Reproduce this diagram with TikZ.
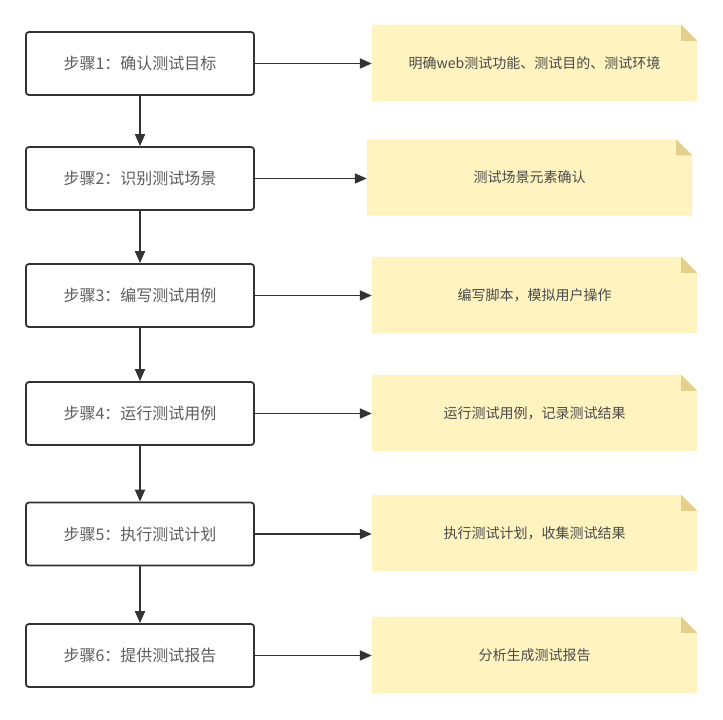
\documentclass[tikz,border=0pt]{standalone}
\usepackage{fontspec}
\setmainfont{Noto Sans CJK SC}
\usetikzlibrary{arrows.meta}
\definecolor{notefill}{HTML}{FFF3C0}
\definecolor{notefold}{HTML}{E3D08C}
\definecolor{stroke}{HTML}{333333}
\definecolor{steptext}{HTML}{5E5E5E}
\definecolor{notetext}{HTML}{4A4A4A}
\tikzset{
  stepbox/.style={draw=stroke, line width=1.8pt, rounded corners=3pt, fill=white,
    minimum width=228pt, minimum height=63pt, inner sep=0pt,
    font=\fontsize{16pt}{19pt}\selectfont, text=steptext},
  notebox/.style={minimum width=325pt, minimum height=76pt, inner sep=0pt,
    font=\fontsize{14pt}{17pt}\selectfont, text=notetext},
  flow/.style={draw=stroke, line width=1.8pt, -{Triangle[length=12pt,width=10pt]}}
}
\newcommand{\notebg}[1]{%
  \fill[notefill] (#1.south west) -- (#1.north west) -- ([xshift=-16pt]#1.north east)
    -- ([yshift=-16pt]#1.north east) -- (#1.south east) -- cycle;
  \fill[notefold] ([xshift=-16pt]#1.north east) -- ([yshift=-16pt]#1.north east)
    -- ([xshift=-16pt,yshift=-16pt]#1.north east) -- cycle;
}
\begin{document}
\begin{tikzpicture}[x=1pt,y=-1pt]
\useasboundingbox (0,0) rectangle (723,720);
\fill[white] (0,0) rectangle (723,720);
% notes
\node[notebox] (n1) at (534.5,63) {};
\node[notebox] (n2) at (529.5,177.5) {};
\node[notebox] (n3) at (534.5,295) {};
\node[notebox] (n4) at (534.5,413) {};
\node[notebox] (n5) at (534.5,533) {};
\node[notebox] (n6) at (534.5,655) {};
\notebg{n1}\notebg{n2}\notebg{n3}\notebg{n4}\notebg{n5}\notebg{n6}
\node[notebox] at (n1) {明确web测试功能、测试目的、测试环境};
\node[notebox] at (n2) {测试场景元素确认};
\node[notebox] at (n3) {编写脚本，模拟用户操作};
\node[notebox] at (n4) {运行测试用例，记录测试结果};
\node[notebox] at (n5) {执行测试计划，收集测试结果};
\node[notebox] at (n6) {分析生成测试报告};
% steps
\node[stepbox] (s1) at (140,63.5) {步骤1：确认测试目标};
\node[stepbox] (s2) at (140,178.5) {步骤2：识别测试场景};
\node[stepbox] (s3) at (140,295.5) {步骤3：编写测试用例};
\node[stepbox] (s4) at (140,413.5) {步骤4：运行测试用例};
\node[stepbox] (s5) at (140,534) {步骤5：执行测试计划};
\node[stepbox] (s6) at (140,655.5) {步骤6：提供测试报告};
% vertical arrows
\draw[flow] (s1) -- (s2);
\draw[flow] (s2) -- (s3);
\draw[flow] (s3) -- (s4);
\draw[flow] (s4) -- (s5);
\draw[flow] (s5) -- (s6);
% horizontal arrows
\draw[flow] (s1.east) -- (n1.west |- s1.east);
\draw[flow] (s2.east) -- (n2.west |- s2.east);
\draw[flow] (s3.east) -- (n3.west |- s3.east);
\draw[flow] (s4.east) -- (n4.west |- s4.east);
\draw[flow] (s5.east) -- (n5.west |- s5.east);
\draw[flow] (s6.east) -- (n6.west |- s6.east);
\end{tikzpicture}
\end{document}
